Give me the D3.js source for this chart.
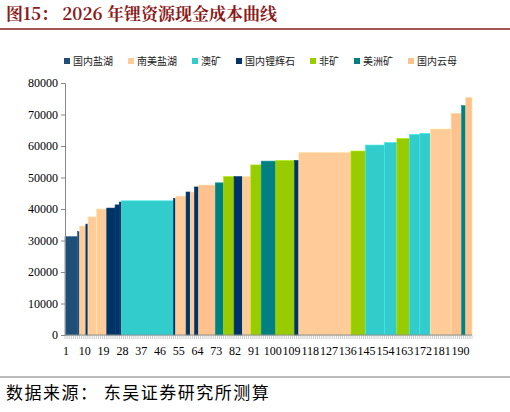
<!DOCTYPE html><html><head><meta charset="utf-8"><script src="https://cdn.jsdelivr.net/npm/d3@7"></script>
<style>body{margin:0;background:#fff}</style></head><body><svg id="c" width="510" height="412"></svg>
<script>
const categories=["国内盐湖","南美盐湖","澳矿","国内锂辉石","非矿","美洲矿","国内云母"];
const colors=["#1f4e79","#ffcc99","#33cccc","#003366","#99cc00","#008080","#ffc28f"];
const segCats=[0,0,1,3,1,1,3,3,3,2,3,1,3,1,3,6,5,4,3,1,4,5,4,3,1,4,2,2,4,2,2,1,6,5,6];
const segWidths=[6,1,3,1,4,5,4,2,1,25,1,5,2,2,2,8,4,5,4,4,5,7,9,2,25,7,9,6,6,5,5,10,5,2,3];
const segValues=[31200,32800,34600,35200,37500,40000,40300,41300,42200,42600,43400,44100,45400,45400,47000,47600,48300,50300,50300,50300,54000,55200,55400,55400,58000,58400,60300,61100,62400,63700,64000,65400,70400,72800,75400];
const yTicks=[0,10000,20000,30000,40000,50000,60000,70000,80000];
const xTickLabels=[1,10,19,28,37,46,55,64,73,82,91,100,109,118,127,136,145,154,163,172,181,190];
const svg=d3.select("#c");
const total=d3.sum(segWidths);
const x=d3.scaleLinear().domain([0,total]).range([65,472]);
const y=d3.scaleLinear().domain([0,80000]).range([335,83]);
svg.append("text").attr("x",6).attr("y",20).attr("font-family","Noto Serif CJK SC, Noto Sans CJK SC, serif").attr("font-weight","bold").attr("font-size",17).attr("fill","#8b1a1a").text("图15：  2026 年锂资源现金成本曲线");
svg.append("line").attr("x1",0).attr("x2",510).attr("y1",29).attr("y2",29).attr("stroke","#8b1a1a").attr("stroke-width",1.5);
let lx=64;
categories.forEach((c,i)=>{const g=svg.append("g");g.append("rect").attr("x",lx).attr("y",58).attr("width",6).attr("height",6).attr("fill",colors[i]);
const t=g.append("text").attr("x",lx+9).attr("y",65).attr("font-family","Noto Sans CJK SC").attr("font-size",10).attr("fill","#222").text(c);
lx+=9+t.node().getComputedTextLength()+15;});
let cum=0;
segWidths.forEach((w,i)=>{svg.append("rect").attr("x",x(cum)).attr("width",x(cum+w)-x(cum)).attr("y",y(segValues[i])).attr("height",y(0)-y(segValues[i])).attr("fill",colors[segCats[i]]).attr("stroke",d3.color(colors[segCats[i]]).brighter(0.4)).attr("stroke-width",0.6);cum+=w;});
const ya=svg.append("g").attr("transform","translate(65,0)").call(d3.axisLeft(y).tickValues(yTicks).tickSize(4).tickFormat(d=>d));
ya.selectAll("text").attr("font-family","Liberation Serif").attr("font-size",12).attr("fill","#000");
ya.select(".domain").attr("stroke","#888");ya.selectAll("line").attr("stroke","#888");
const xa=svg.append("g").attr("transform","translate(0,335)");
xa.append("line").attr("x1",65).attr("x2",472).attr("stroke","#888");
d3.range(total+1).forEach(i=>xa.append("line").attr("x1",x(i)).attr("x2",x(i)).attr("y2",4).attr("stroke","#999").attr("stroke-width",0.5));
xTickLabels.forEach(v=>xa.append("text").attr("x",x(v-0.5)).attr("y",20).attr("text-anchor","middle").attr("font-family","Liberation Serif").attr("font-size",12).text(v));
svg.append("line").attr("x1",0).attr("x2",510).attr("y1",377).attr("y2",377).attr("stroke","#555").attr("stroke-width",0.8);
svg.append("text").attr("x",6).attr("y",399).attr("font-family","Noto Sans CJK SC").attr("font-size",17).attr("letter-spacing",1.5).text("数据来源： 东吴证券研究所测算");
</script></body></html>
